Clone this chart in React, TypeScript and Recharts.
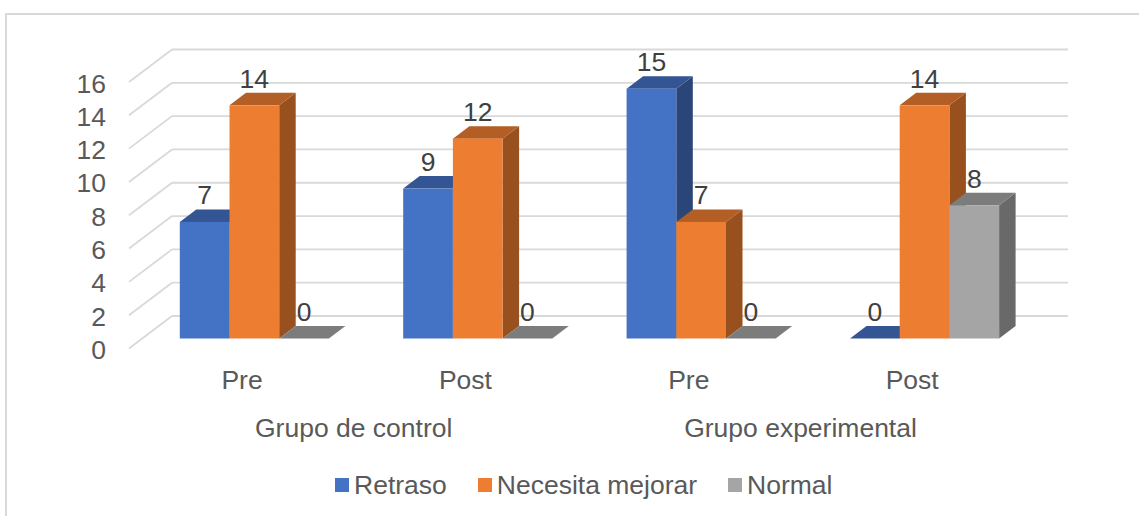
import { BarChart, Bar, XAxis, YAxis, CartesianGrid, LabelList, Legend } from 'recharts';

const periods = ['Pre', 'Post', 'Pre', 'Post'];
const groups = ['Grupo de control', 'Grupo de control', 'Grupo experimental', 'Grupo experimental'];
const retraso = [7, 9, 15, 0];
const necesitaMejorar = [14, 12, 7, 14];
const normal = [0, 0, 0, 8];
const yTicks = [0, 2, 4, 6, 8, 10, 12, 14, 16];

const data = periods.map((p, i) => ({
    id: i,
    period: p,
    group: groups[i],
    retraso: retraso[i],
    necesita: necesitaMejorar[i],
    normal: normal[i],
}));

const FONT = '"Liberation Sans", Arial, sans-serif';
const FONT_SIZE = 26.5;
const TICK_COLOR = '#595959';

const DEPTH_X = 16.5;
const DEPTH_Y = 12.5;

// caja 3D: frente, tapa y lateral
const box3d = (top: string, side: string) => (props: any) => {
    const { x, y, width, height, fill } = props;
    const r = x + width;
    const b = y + height;
    return (
        <g>
            {height > 0 && (
                <polygon
                    points={`${r},${y} ${r + DEPTH_X},${y - DEPTH_Y} ${r + DEPTH_X},${b - DEPTH_Y} ${r},${b}`}
                    fill={side}
                />
            )}
            <polygon
                points={`${x},${y} ${x + DEPTH_X},${y - DEPTH_Y} ${r + DEPTH_X},${y - DEPTH_Y} ${r},${y}`}
                fill={top}
            />
            {height > 0 && <rect x={x} y={y} width={width} height={height} fill={fill} />}
        </g>
    );
};

// rejilla: pared del fondo y suelo lateral
const gridLine = (props: any) => {
    const { x2, y1 } = props;
    return (
        <g key={`grid-${y1}`}>
            <line x1={129} y1={y1 + 10} x2={172} y2={y1 - 22.5} stroke="#D9D9D9" strokeWidth={1.8} />
            <line x1={172} y1={y1 - 22.5} x2={x2 + 31.6} y2={y1 - 22.5} stroke="#D9D9D9" strokeWidth={1.8} />
        </g>
    );
};

const yTick = (props: any) => (
    <text x={106} y={props.y + 11.5} dy={9} textAnchor="end" fontSize={FONT_SIZE} fontFamily={FONT} fill={TICK_COLOR}>
        {props.payload.value}
    </text>
);

const periodTick = (props: any) => (
    <text x={props.x - 12.5} y={380} dy={9} textAnchor="middle" fontSize={FONT_SIZE} fontFamily={FONT} fill={TICK_COLOR}>
        {periods[props.index]}
    </text>
);

const groupTick = (props: any) => (
    <text x={props.x - 12.5} y={428} dy={9} textAnchor="middle" fontSize={FONT_SIZE} fontFamily={FONT} fill={TICK_COLOR}>
        {props.payload.value}
    </text>
);

const labelStyle = { fontSize: FONT_SIZE, fontFamily: FONT, fill: '#404040' };

const legendContent = (props: any) => (
    <div style={{ display: 'flex', alignItems: 'center', height: 40, paddingLeft: 335, color: TICK_COLOR }}>
        {props.payload.map((entry: any) => (
            <div key={entry.value} style={{ display: 'flex', alignItems: 'center', marginRight: 31 }}>
                <span style={{ width: 14, height: 14, background: entry.color, marginRight: 5 }} />
                <span>{entry.value}</span>
            </div>
        ))}
    </div>
);

export default function App() {
    return (
        <div style={{ position: 'absolute', left: 0, top: 0, width: 1139, height: 516, background: '#fff', overflow: 'hidden' }}>
            <div
                style={{
                    position: 'absolute',
                    left: 5,
                    top: 13,
                    width: 1200,
                    height: 600,
                    borderLeft: '2px solid #D9D9D9',
                    borderTop: '2px solid #D9D9D9',
                }}
            />
            <div style={{ position: 'absolute', left: 0, top: 0 }}>
                <BarChart
                    width={1139}
                    height={516}
                    data={data}
                    barGap={0}
                    barSize={49.7}
                    margin={{ top: 72, right: 102.6, bottom: 41.5, left: 42.8 }}
                >
                    <CartesianGrid vertical={false} horizontal={gridLine} />
                    <XAxis dataKey="id" height={48} axisLine={false} tickLine={false} tick={periodTick} />
                    <XAxis
                        xAxisId="group"
                        dataKey="group"
                        allowDuplicatedCategory={false}
                        height={48}
                        axisLine={false}
                        tickLine={false}
                        tick={groupTick}
                    />
                    <YAxis width={100} domain={[0, 16]} ticks={yTicks} interval={0} axisLine={false} tickLine={false} tick={yTick} />
                    <Legend
                        height={40}
                        itemSorter={null}
                        content={legendContent}
                        wrapperStyle={{ fontSize: FONT_SIZE, fontFamily: FONT, bottom: 11, left: 0, width: 1139 }}
                    />
                    <Bar dataKey="retraso" name="Retraso" fill="#4472C4" isAnimationActive={false} shape={box3d('#335593', '#2A4678')}>
                        <LabelList dataKey="retraso" position="top" offset={17.5} style={labelStyle} />
                    </Bar>
                    <Bar dataKey="necesita" name="Necesita mejorar" fill="#ED7D31" isAnimationActive={false} shape={box3d('#B25E25', '#97501E')}>
                        <LabelList dataKey="necesita" position="top" offset={17.5} style={labelStyle} />
                    </Bar>
                    <Bar dataKey="normal" name="Normal" fill="#A5A5A5" isAnimationActive={false} shape={box3d('#7C7C7C', '#696969')}>
                        <LabelList dataKey="normal" position="top" offset={17.5} style={labelStyle} />
                    </Bar>
                </BarChart>
            </div>
        </div>
    );
}
